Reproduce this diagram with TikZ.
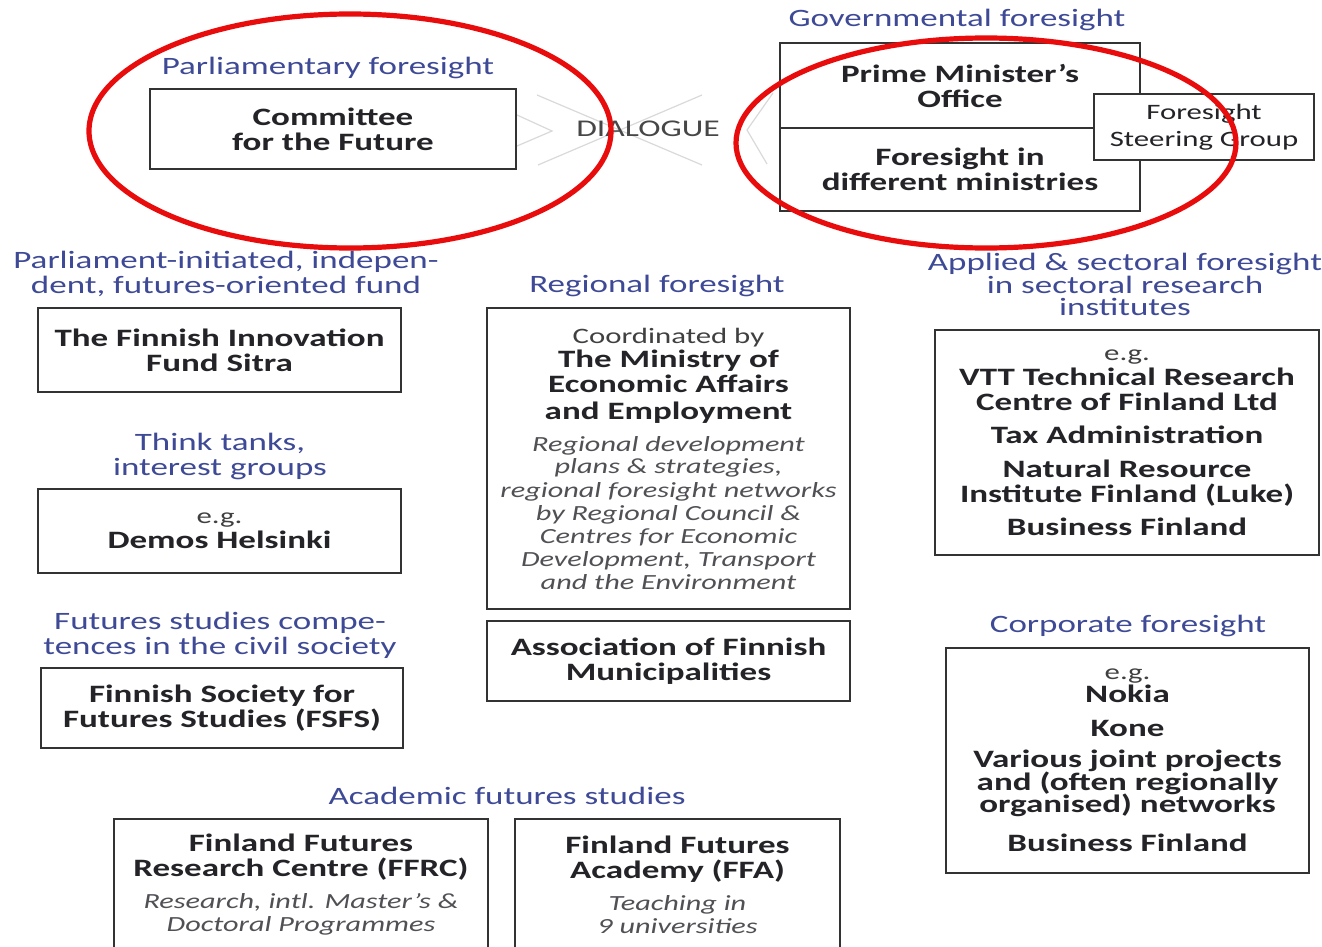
\documentclass[tikz,border=0pt]{standalone}
\usepackage{fontspec}
\setmainfont{Carlito}[FakeStretch=1.4]
\usetikzlibrary{positioning}

\definecolor{headblue}{RGB}{62,74,150}
\definecolor{boxtext}{RGB}{35,35,40}
\definecolor{ittext}{RGB}{80,80,85}
\definecolor{ringred}{RGB}{232,12,12}

\tikzset{
  box/.style={draw=black!80, line width=1pt, fill=white, align=center, inner sep=0pt,
    text=boxtext, font=\bfseries\fontsize{12.5}{12.5}\selectfont},
  head/.style={text=headblue, align=center, font=\fontsize{12.5}{12.5}\selectfont},
  ring/.style={draw=ringred, line width=2.6pt},
  dialine/.style={draw=black!15, line width=0.6pt},
}
\newcommand{\eg}{{\mdseries\color{black!75}\fontsize{11}{12.5}\selectfont e.g.}}
\newcommand{\smallit}[1]{{\mdseries\itshape\color{ittext}\fontsize{10.8}{12.5}\selectfont #1}}

\begin{document}
\begin{tikzpicture}[x=0.5pt,y=-0.5pt]
  \useasboundingbox (0,0) rectangle (1322,947);

  % dialogue pattern
  \coordinate (dl1) at (517,115); \coordinate (dl2) at (552,131); \coordinate (dl3) at (517,146);
  \coordinate (dx1) at (537,95);  \coordinate (dx2) at (702,165);
  \coordinate (dx3) at (538,165); \coordinate (dx4) at (702,95);
  \coordinate (dr1) at (773,93);  \coordinate (dr2) at (747,130); \coordinate (dr3) at (767,164);
  \draw[dialine] (dl1) -- (dl2) -- (dl3);
  \draw[dialine] (dx1) -- (dx2);
  \draw[dialine] (dx3) -- (dx4);
  \draw[dialine] (dr1) -- (dr2) -- (dr3);
  \node[text=black!72, font=\fontsize{12}{12}\selectfont] (dialogue) at (648,129) {DIALOGUE};

  % top row
  \node[head] (parlhead) at (328,68) {Parliamentary foresight};
  \node[box, minimum width=183pt, minimum height=40pt] (cff) at (333,129) {Committee\\for the Future};

  \node[head] (govhead) at (957,20) {Governmental foresight};
  \node[box, minimum width=180pt, minimum height=42.5pt] (pmo) at (960,85.5) {Prime Minister’s\\Office};
  \node[box, minimum width=180pt, minimum height=41.5pt] (mins) at (960,169.5) {Foresight in\\different ministries};
  \node[box, font=\fontsize{11}{12.5}\selectfont, minimum width=110pt, minimum height=33pt] (fsg) at (1204,127) {Foresight\\[1pt]Steering Group};

  % left column
  \node[head] (fundhead) at (226,274) {Parliament-initiated, indepen-\\dent, futures-oriented fund};
  \node[box, minimum width=181.5pt, minimum height=42pt] (sitra) at (219.5,350) {The Finnish Innovation\\Fund Sitra};

  \node[head] (thinkhead) at (220,456) {Think tanks,\\interest groups};
  \node[box, minimum width=181.5pt, minimum height=42pt] (demos) at (219.5,531) {\eg\\Demos Helsinki};

  \node[head] (civilhead) at (220,635) {Futures studies compe-\\tences in the civil society};
  \node[box, minimum width=181pt, minimum height=40pt] (fsfs) at (222,708) {Finnish Society for\\Futures Studies (FSFS)};

  % middle column
  \node[head] (reghead) at (657,286) {Regional foresight};
  \node[box, minimum width=181.5pt, minimum height=150.5pt] (reg) at (668.5,458.5)
    {{\mdseries\color{black!75}\fontsize{11}{12.5}\selectfont Coordinated by}\\[-0.5pt]
     The Ministry of\\
     Economic Affairs\\[1pt]
     and Employment\\[3.5pt]
     \smallit{Regional development}\\[-1.5pt]
     \smallit{plans \& strategies,}\\[-0.5pt]
     \smallit{regional foresight networks}\\[-1pt]
     \smallit{by Regional Council \&}\\[-1pt]
     \smallit{Centres for Economic}\\[-1pt]
     \smallit{Development, Transport}\\[-1pt]
     \smallit{and the Environment}};
  \node[box, minimum width=181.5pt, minimum height=40pt] (afm) at (668.5,661) {Association of Finnish\\Municipalities};

  % right column
  \node[head] (appliedhead) at (1125,284) {Applied \& sectoral foresight\\[-1pt]in sectoral research\\[-1.5pt]institutes};
  \node[box, minimum width=192pt, minimum height=112.5pt] (vtt) at (1127,442.5)
    {\eg\\
     VTT Technical Research\\
     Centre of Finland Ltd\\[4pt]
     Tax Administration\\[4.5pt]
     Natural Resource\\
     Institute Finland (Luke)\\[4pt]
     Business Finland};

  \node[head] (corphead) at (1128,626) {Corporate foresight};
  \node[box, minimum width=181.5pt, minimum height=112.5pt] (corp) at (1127.5,760.5)
    {\eg\\[-1pt]
     Nokia\\[4.5pt]
     Kone\\[3pt]
     Various joint projects\\[-1pt]
     and (often regionally\\[-1.5pt]
     organised) networks\\[7pt]
     Business Finland};

  % bottom row
  \node[head] (acadhead) at (507,796) {Academic futures studies};
  \node[box, minimum width=187pt, minimum height=66pt] (ffrc) at (301,885)
    {Finland Futures\\
     Research Centre (FFRC)\\[3.5pt]
     \smallit{Research, intl. Master’s \&}\\[-1pt]
     \smallit{Doctoral Programmes}};
  \node[box, minimum width=162.5pt, minimum height=66pt] (ffa) at (677.5,885)
    {Finland Futures\\
     Academy (FFA)\\[3.5pt]
     \smallit{Teaching in}\\[-1pt]
     \smallit{9 universities}};

  % highlight rings
  \draw[ring] (350,131) ellipse [x radius=130.5pt, y radius=58.5pt];
  \draw[ring] (986,143) ellipse [x radius=125pt, y radius=52.5pt];
\end{tikzpicture}
\end{document}
